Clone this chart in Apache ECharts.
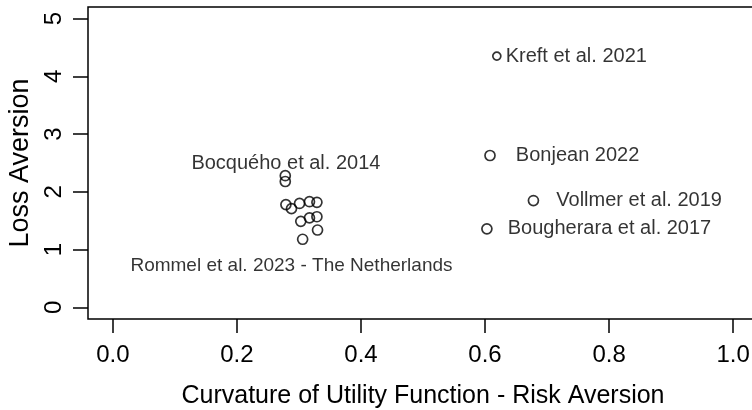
<!DOCTYPE html>
<html>
<head>
<meta charset="utf-8">
<script src="https://cdn.jsdelivr.net/npm/echarts@6/dist/echarts.min.js"></script>
<style>
  html, body { margin: 0; padding: 0; background: #fff; }
  #chart { width: 752px; height: 410px; }
</style>
</head>
<body>
<div id="chart"></div>
<script>
// labelled studies
const studyNames = ['Kreft et al. 2021', 'Bonjean 2022', 'Vollmer et al. 2019', 'Bougherara et al. 2017']
const studyX = [0.619, 0.608, 0.678, 0.603]
const studyY = [4.35, 2.63, 1.85, 1.36]

// Bocquého et al. 2014
const bocquehoX = [0.278, 0.278]
const bocquehoY = [2.28, 2.18]

// Rommel et al. 2023 - The Netherlands
const rommelX = [0.279, 0.288, 0.301, 0.317, 0.329, 0.303, 0.317, 0.329, 0.330, 0.306]
const rommelY = [1.78, 1.71, 1.80, 1.83, 1.82, 1.49, 1.55, 1.57, 1.34, 1.18]

// group captions, placed in data units
const noteText = ['Bocquého et al. 2014', 'Rommel et al. 2023 - The Netherlands']
const noteX = [0.279, 0.288]
const noteY = [2.49, 0.72]

const xTicks = [0, 0.2, 0.4, 0.6, 0.8, 1.0]
const yTicks = [0, 1, 2, 3, 4, 5]

const font = '"Liberation Sans", Arial, sans-serif'
const labelGap = [4, 20, 17, 15]
const symbolSizes = [8, 10, 10, 10]
const noteSizes = [20, 19]

const circle = {
  symbol: 'circle',
  symbolSize: 10,
  itemStyle: { color: 'rgba(0,0,0,0)', borderColor: '#000', borderWidth: 1.7 }
}

const chart = echarts.init(document.getElementById('chart'), null, { renderer: 'canvas' })

chart.setOption({
  animation: false,
  backgroundColor: '#fff',
  grid: {
    left: 88,
    right: -6,
    top: 7,
    bottom: 91,
    show: true,
    borderColor: '#000',
    borderWidth: 1.5,
    containLabel: false,
    outerBoundsMode: 'none'
  },
  xAxis: {
    type: 'value',
    min: -0.04,
    max: 1.04,
    splitLine: { show: false },
    axisLine: { show: false, onZero: false },
    axisTick: {
      show: true,
      customValues: xTicks,
      length: 14,
      lineStyle: { color: '#000', width: 1.5 }
    },
    axisLabel: {
      customValues: xTicks,
      formatter: v => v.toFixed(1),
      margin: 24,
      color: '#000',
      fontSize: 24,
      fontFamily: font
    },
    name: 'Curvature of Utility Function - Risk Aversion',
    nameLocation: 'middle',
    nameGap: 65,
    nameTextStyle: { color: '#000', fontSize: 25, fontFamily: font }
  },
  yAxis: {
    type: 'value',
    min: -0.2,
    max: 5.2,
    splitLine: { show: false },
    axisLine: { show: false, onZero: false },
    axisTick: {
      show: true,
      customValues: yTicks,
      length: 15,
      lineStyle: { color: '#000', width: 1.5 }
    },
    axisLabel: {
      customValues: yTicks,
      rotate: 90,
      margin: 22,
      color: '#000',
      fontSize: 24,
      fontFamily: font
    },
    name: 'Loss Aversion',
    nameLocation: 'middle',
    nameRotate: 90,
    nameGap: 54,
    nameTextStyle: { color: '#000', fontSize: 27, fontFamily: font }
  },
  series: [
    {
      name: 'Studies',
      type: 'scatter',
      ...circle,
      data: studyNames.map((n, i) => ({
        name: n,
        value: [studyX[i], studyY[i]],
        symbolSize: symbolSizes[i],
        label: {
          show: true,
          position: 'right',
          distance: labelGap[i],
          formatter: '{b}',
          color: '#000',
          fontSize: 20,
          fontFamily: font
        }
      }))
    },
    {
      name: 'Bocquého et al. 2014',
      type: 'scatter',
      ...circle,
      data: bocquehoX.map((x, i) => [x, bocquehoY[i]])
    },
    {
      name: 'Rommel et al. 2023',
      type: 'scatter',
      ...circle,
      data: rommelX.map((x, i) => [x, rommelY[i]])
    },
    {
      name: 'Notes',
      type: 'scatter',
      symbolSize: 0,
      silent: true,
      data: noteText.map((t, i) => ({
        name: t,
        value: [noteX[i], noteY[i]],
        label: { fontSize: noteSizes[i] }
      })),
      label: {
        show: true,
        position: 'inside',
        formatter: '{b}',
        color: '#000',
        fontFamily: font
      }
    }
  ]
})
</script>
</body>
</html>
